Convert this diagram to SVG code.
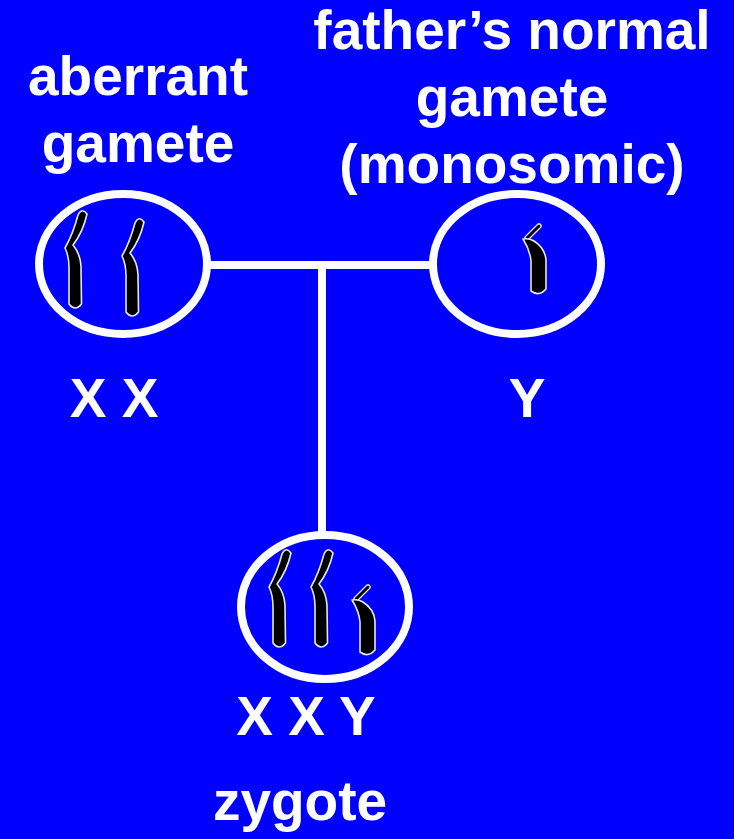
<svg xmlns="http://www.w3.org/2000/svg" width="734" height="839" viewBox="0 0 734 839">
  <style>
    .lbl { font-family: "Liberation Sans", Arial, sans-serif; font-weight: bold; font-size: 55px; fill: #ffffff; text-anchor: middle; }
    .cell { fill: #0000ff; stroke: #ffffff; stroke-width: 8; }
    .wire { stroke: #ffffff; stroke-width: 8; fill: none; }
    .chromo { fill: #000000; stroke: #e8e8f0; stroke-width: 1.6; stroke-linejoin: round; }
    .arm { stroke: #000000; stroke-width: 3; stroke-linecap: round; }
    .armEdge { stroke: #e8e8f0; stroke-width: 5.5; stroke-linecap: round; }
  </style>
  <defs>
    <!-- X chromosome, origin at the centromere kink -->
    <path id="chrX" class="chromo" d="M 0,0 Q 8,-14 13,-33 Q 17,-41 22,-34 Q 18,-16 8,-3 Q 15,5 16,18 L 16.5,56 Q 10,64 4,56 L 4,20 Q 4,8 0,0 Z"/>
    <!-- Y chromosome, origin at the centromere kink -->
    <g id="chrY">
      <line class="armEdge" x1="4" y1="-1" x2="16" y2="-13"/>
      <line class="arm" x1="4" y1="-1" x2="16" y2="-13"/>
      <path class="chromo" d="M 0,0 Q 6,-1 11,2 Q 22,9 23,21 L 23,50 Q 16,58 8,52 L 8,22 Q 7,11 0,0 Z"/>
    </g>
  </defs>

  <rect x="0" y="0" width="734" height="839" fill="#0000ff"/>

  <g id="connectors">
    <line class="wire" x1="210" y1="265" x2="432" y2="265"/>
    <line class="wire" x1="322" y1="265" x2="322" y2="532"/>
  </g>

  <g id="aberrant-gamete">
    <text class="lbl" x="138" y="95">aberrant</text>
    <text class="lbl" x="138" y="162">gamete</text>
    <ellipse class="cell" cx="123" cy="264" rx="84" ry="70"/>
    <use href="#chrX" x="65" y="248"/>
    <use href="#chrX" x="122" y="256"/>
    <text class="lbl" x="114" y="417">X X</text>
  </g>

  <g id="normal-gamete">
    <text class="lbl" x="512" y="49">father’s normal</text>
    <text class="lbl" x="512" y="116">gamete</text>
    <text class="lbl" x="512" y="183">(monosomic)</text>
    <ellipse class="cell" cx="517" cy="264" rx="84" ry="70"/>
    <use href="#chrY" x="523" y="239"/>
    <text class="lbl" x="527" y="417">Y</text>
  </g>

  <g id="zygote">
    <ellipse class="cell" cx="325" cy="607" rx="84" ry="72"/>
    <use href="#chrX" x="269" y="587"/>
    <use href="#chrX" x="311" y="587"/>
    <use href="#chrY" x="352" y="600"/>
    <text class="lbl" x="306" y="735">X X Y</text>
    <text class="lbl" x="300" y="820">zygote</text>
  </g>
</svg>
